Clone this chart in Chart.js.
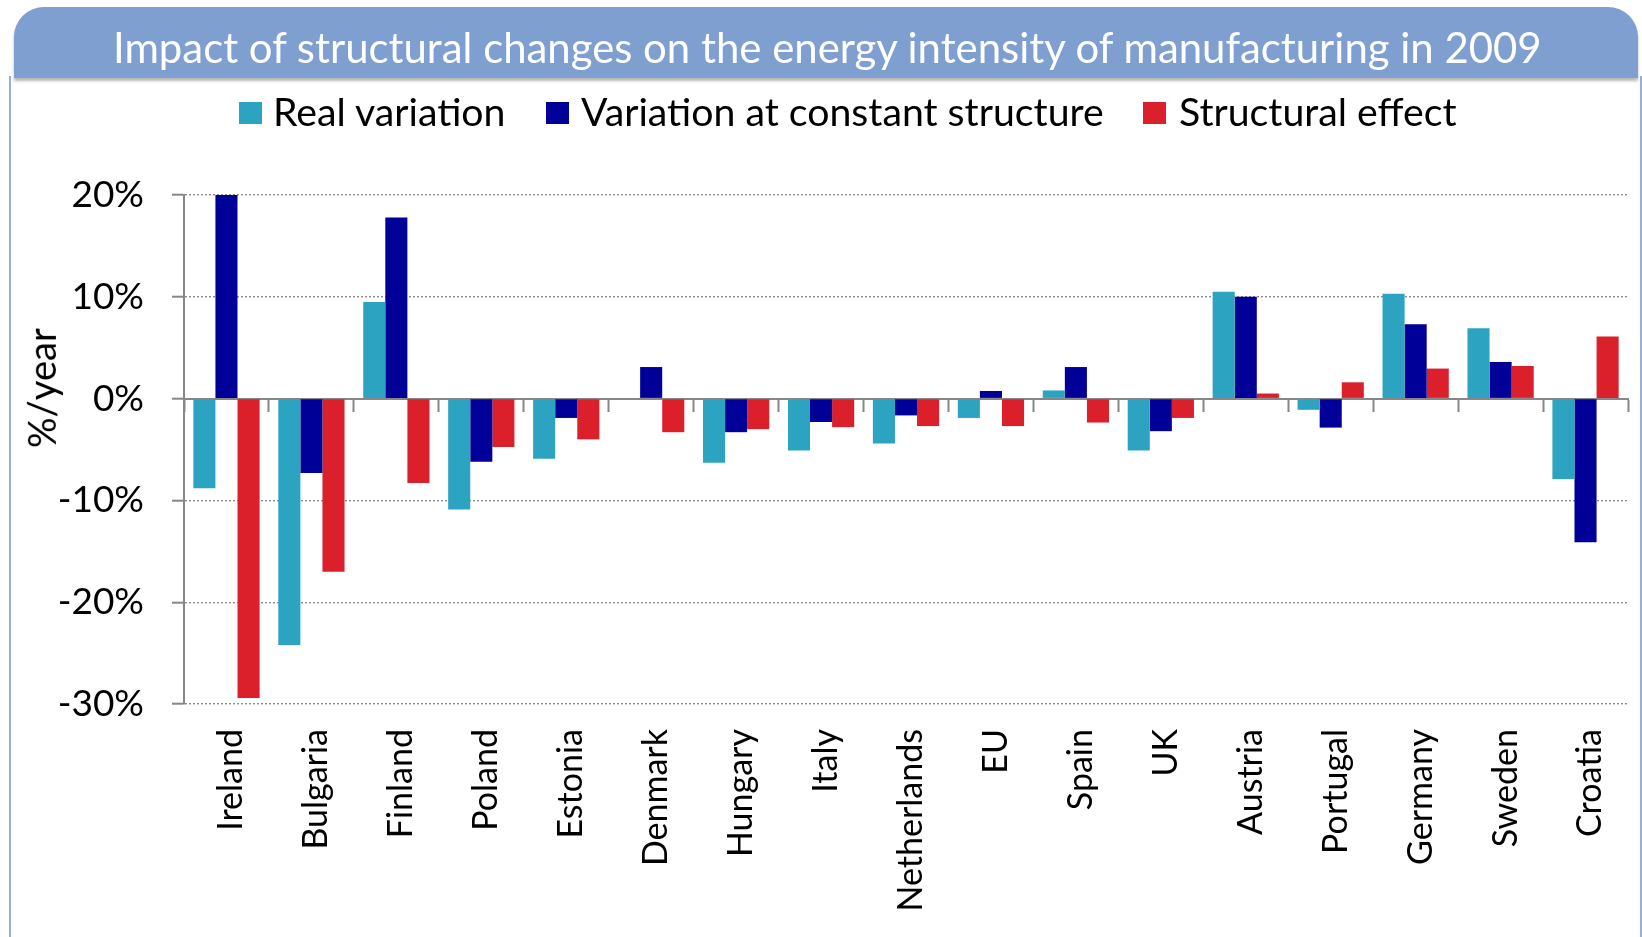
<!DOCTYPE html>
<html>
<head>
<meta charset="utf-8">
<script src="https://cdn.jsdelivr.net/npm/chart.js@4.4.1/dist/chart.umd.min.js"></script>
<style>
  html, body { margin: 0; padding: 0; background: #fff; width: 1642px; height: 937px; overflow: hidden; }
  #panel { position: absolute; left: 9px; top: 76px; width: 1633px; height: 900px; border: 2px solid #93b1dd; border-top: none; box-sizing: border-box; }
  #banner { position: absolute; left: 14px; top: 7px; width: 1624px; height: 71px; background: #7f9fd1;
            border-radius: 30px 30px 0 0; box-shadow: 0 3px 3px rgba(0,0,0,0.28); }
  canvas { position: absolute; left: 0; top: 0; }
  .txt { position: absolute; white-space: nowrap; font-family: Lato, sans-serif; }
  #title { color: #fff; }
  .lg-box { position: absolute; }
  #ytitle { color: #000; transform: rotate(-90deg); transform-origin: 50% 50%; text-align: center; }
</style>
</head>
<body>
<div id="panel"></div>
<div id="banner"></div>
<canvas id="chart" width="1642" height="937"></canvas>
<div id="title" class="txt"></div>
<div id="legend"></div>
<div id="ytitle" class="txt"></div>
<script>
// Energy intensity of manufacturing, 2009 (% / year)
const categories = ['Ireland', 'Bulgaria', 'Finland', 'Poland', 'Estonia', 'Denmark', 'Hungary', 'Italy',
  'Netherlands', 'EU', 'Spain', 'UK', 'Austria', 'Portugal', 'Germany', 'Sweden', 'Croatia'];
const realVariation =     [-8.8, -24.2, 9.5, -10.9, -5.9, 0, -6.3, -5.1, -4.4, -1.9, 0.8, -5.1, 10.5, -1.1, 10.3, 6.9, -7.9];
const constantStructure = [20.0, -7.3, 17.8, -6.2, -1.9, 3.1, -3.3, -2.3, -1.65, 0.75, 3.1, -3.2, 10.0, -2.85, 7.3, 3.6, -14.1];
const structuralEffect =  [-29.4, -17.0, -8.3, -4.75, -4.0, -3.3, -3.0, -2.8, -2.7, -2.7, -2.35, -1.9, 0.5, 1.6, 2.95, 3.2, 6.1];
const seriesNames = ['Real variation', 'Variation at constant structure', 'Structural effect'];
const seriesColors = ['#2ca3c0', '#000099', '#db1f2b'];
const yTickValues = [-30, -20, -10, 0, 10, 20];
const titleText = 'Impact of structural changes on the energy intensity of manufacturing in 2009';
const yTitleText = '%/year';

const FONT = 'Lato';
const mctx = document.createElement('canvas').getContext('2d');
function measure(text, size) { mctx.font = size + 'px ' + FONT; return mctx.measureText(text).width; }
function fitSize(text, width) { return 100 * width / measure(text, 100); }
// place a line of text by its left edge and the vertical middle of its capitals
function placeText(el, text, size, left, capMid) {
  el.textContent = text;
  el.style.fontSize = size + 'px';
  el.style.lineHeight = size + 'px';
  el.style.left = left + 'px';
  el.style.top = (capMid - 0.53 * size) + 'px';
}

function build() {
  // banner title
  const tSize = fitSize(titleText, 1433);
  placeText(document.getElementById('title'), titleText, tSize, 829.5 - 1433 / 2, 49);

  // legend
  const legend = document.getElementById('legend');
  const textLefts = [273, 581, 1179];
  const boxLefts = [239, 546, 1143];
  const totalW = 234 + 523 + 277;
  const lSize = 100 * totalW / seriesNames.reduce((s, n) => s + measure(n, 100), 0);
  seriesNames.forEach((name, i) => {
    const box = document.createElement('div');
    box.className = 'lg-box';
    Object.assign(box.style, { left: boxLefts[i] + 'px', top: '101.5px', width: '22.5px', height: '22.5px', background: seriesColors[i] });
    legend.appendChild(box);
    const t = document.createElement('div');
    t.className = 'txt';
    legend.appendChild(t);
    placeText(t, name, lSize, textLefts[i], 111.5);
  });

  // vertical axis title
  const yt = document.getElementById('ytitle');
  const ySize = fitSize(yTitleText, 120);
  const yw = measure(yTitleText, ySize);
  yt.textContent = yTitleText;
  yt.style.fontSize = ySize + 'px';
  yt.style.lineHeight = ySize + 'px';
  yt.style.width = yw + 'px';
  yt.style.height = ySize + 'px';
  const cx = 56 - 0.387 * ySize, cy = 388;
  yt.style.left = (cx - yw / 2) + 'px';
  yt.style.top = (cy - ySize / 2) + 'px';

  const axisGray = '#878787';
  const series = [realVariation, constantStructure, structuralEffect];

  new Chart(document.getElementById('chart'), {
    type: 'bar',
    data: {
      labels: categories,
      datasets: series.map((d, i) => ({
        label: seriesNames[i],
        data: d,
        backgroundColor: seriesColors[i],
        borderWidth: 0,
        categoryPercentage: 0.78,
        barPercentage: 1.0,
        xAxisID: 'x',
        yAxisID: 'y'
      }))
    },
    options: {
      responsive: false,
      devicePixelRatio: 1,
      animation: false,
      layout: { padding: { top: 195, right: 14, left: 0, bottom: 0 } },
      plugins: { legend: { display: false }, tooltip: { enabled: false }, title: { display: false } },
      scales: {
        // axis line through zero with boundary tick marks
        x: {
          type: 'category',
          position: { y: 0 },
          offset: true,
          grid: { offset: true, drawOnChartArea: false, drawTicks: true, tickLength: 12, tickColor: axisGray, tickWidth: 2 },
          border: { display: true, color: axisGray, width: 2 },
          ticks: { display: false }
        },
        // category names along the bottom
        x2: {
          type: 'category',
          axis: 'x',
          position: 'bottom',
          labels: categories,
          offset: true,
          grid: { display: false, drawTicks: false },
          border: { display: false },
          ticks: {
            autoSkip: false, minRotation: 90, maxRotation: 90,
            padding: 25, labelOffset: 5,
            color: '#000', font: { family: FONT, size: 34 }
          },
          afterFit: s => { s.height = 233; s.paddingLeft = 0; s.paddingRight = 0; }
        },
        y: {
          min: yTickValues[0],
          max: yTickValues[yTickValues.length - 1],
          afterBuildTicks: s => { s.ticks = yTickValues.map(v => ({ value: v })); },
          grid: { color: '#8c8c8c', lineWidth: 1.4, tickLength: 12, tickColor: axisGray, tickWidth: 2, tickBorderDash: [] },
          border: { display: true, color: axisGray, width: 2, dash: [2, 2] },
          ticks: { padding: 28, color: '#000', font: { family: FONT, size: 37 }, callback: v => v + '%' },
          afterFit: s => { s.width = 184; }
        }
      }
    }
  });
}

if (document.fonts && document.fonts.load) {
  Promise.all([document.fonts.load('36px Lato')]).then(build, build);
} else {
  build();
}
</script>
</body>
</html>
